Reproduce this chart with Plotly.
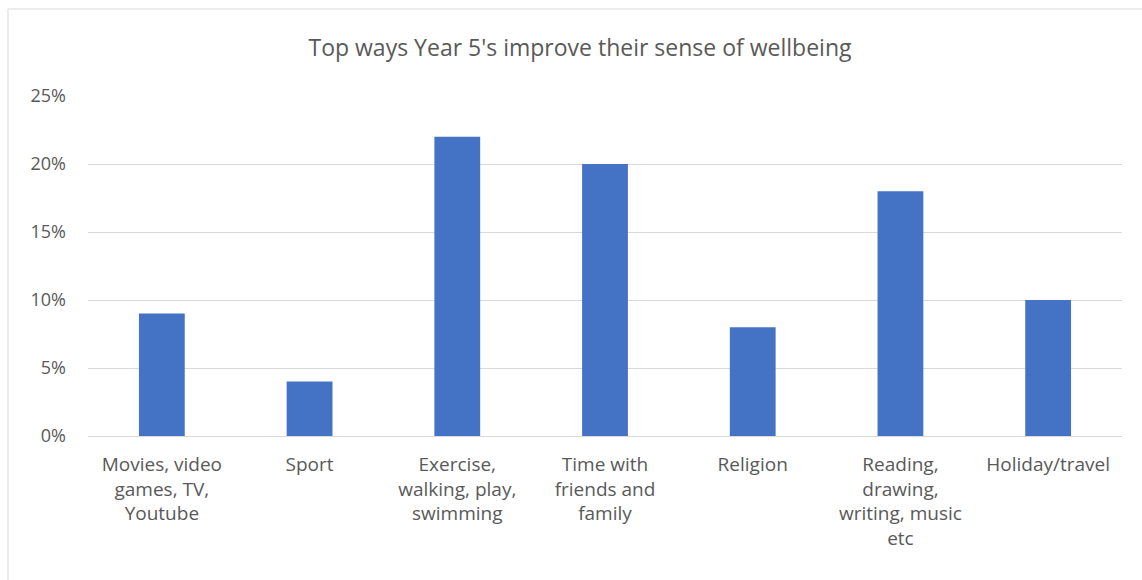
import plotly.graph_objects as go

# Survey results: share of Year 5 pupils naming each activity
categories = [
    "Movies, video<br>games, TV,<br>Youtube",
    "Sport",
    "Exercise,<br>walking, play,<br>swimming",
    "Time with<br>friends and<br>family",
    "Religion",
    "Reading,<br>drawing,<br>writing, music<br>etc",
    "Holiday/travel",
]
shares = [0.09, 0.04, 0.22, 0.20, 0.08, 0.18, 0.10]
y_ticks = [0, 0.05, 0.10, 0.15, 0.20, 0.25]
y_tick_text = ["0%", "5%", "10%", "15%", "20%", "25%"]

TEXT = "#595959"
FONT = "Open Sans"

fig = go.Figure(
    go.Bar(
        x=categories,
        y=shares,
        marker=dict(color="#4472C4", line=dict(width=0)),
        width=0.31,
    )
)

fig.update_layout(
    width=1142,
    height=580,
    margin=dict(l=88, r=20, t=96, b=144),
    paper_bgcolor="white",
    plot_bgcolor="white",
    showlegend=False,
    font=dict(family=FONT, color=TEXT),
    title=dict(
        text="Top ways Year 5's improve their sense of wellbeing",
        x=580 / 1142,
        xref="container",
        xanchor="center",
        y=1 - 48 / 580,
        yref="container",
        yanchor="middle",
        font=dict(family=FONT, size=23, color=TEXT),
    ),
    xaxis=dict(
        showgrid=False,
        showline=False,
        ticks="",
        ticklabelstandoff=15,
        tickfont=dict(family=FONT, size=19, color=TEXT),
        tickangle=0,
    ),
    yaxis=dict(
        range=[0, 0.25],
        tickvals=y_ticks,
        ticktext=y_tick_text,
        showgrid=True,
        gridcolor="#D9D9D9",
        gridwidth=1,
        zeroline=True,
        zerolinecolor="#D9D9D9",
        zerolinewidth=1,
        showline=False,
        ticks="",
        ticklabelstandoff=21,
        tickfont=dict(family=FONT, size=18, color=TEXT),
    ),
    shapes=[
        # chart frame: top and left edges
        dict(type="line", xref="paper", yref="paper",
             x0=(8 - 88) / 1034, x1=(1142 - 88) / 1034,
             y0=1 + (96 - 9) / 340, y1=1 + (96 - 9) / 340,
             line=dict(color="#D9D9D9", width=1)),
        dict(type="line", xref="paper", yref="paper",
             x0=(8 - 88) / 1034, x1=(8 - 88) / 1034,
             y0=1 + (96 - 9) / 340, y1=-(144) / 340,
             line=dict(color="#D9D9D9", width=1)),
    ],
)

fig.write_html("out.html")
